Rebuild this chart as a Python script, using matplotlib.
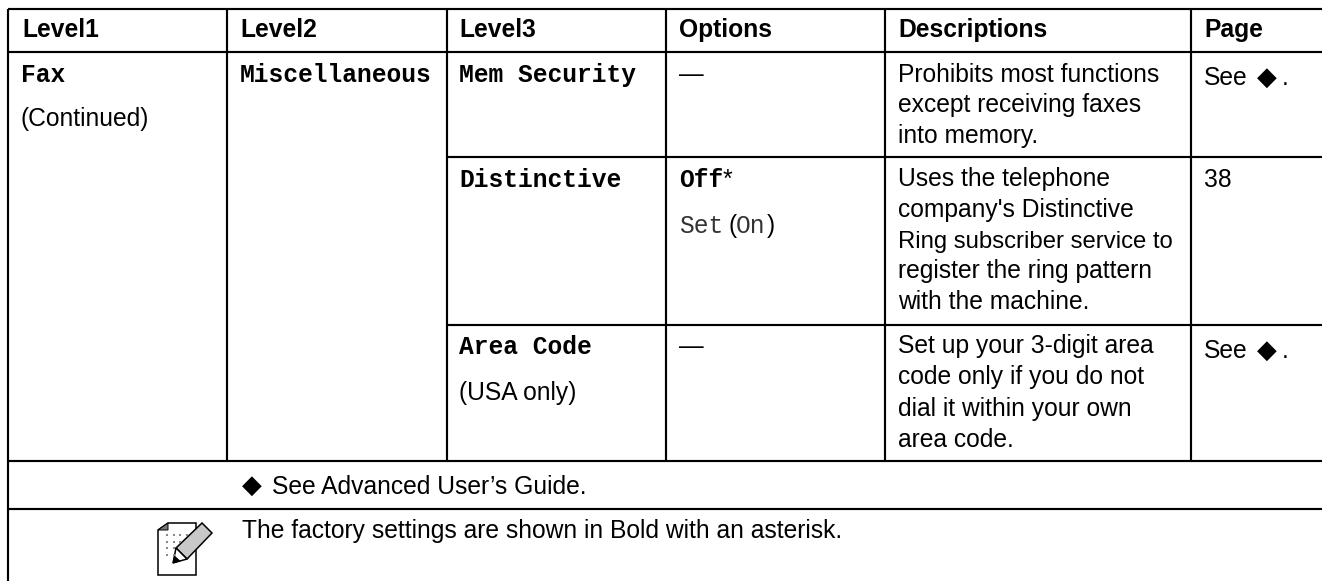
import matplotlib
matplotlib.use("Agg")
import matplotlib.pyplot as plt
from matplotlib.patches import Polygon

W = 1322
H = 581

col_edges = [8, 227, 447, 666, 885, 1191]
row_lines = [8.5, 52, 157, 325, 461, 509]
header_labels = ["Level1", "Level2", "Level3", "Options", "Descriptions", "Page"]

desc1 = ["Prohibits most functions", "except receiving faxes", "into memory."]
desc2 = ["Uses the telephone", "company's Distinctive", "Ring subscriber service to", "register the ring pattern", "with the machine."]
desc3 = ["Set up your 3-digit area", "code only if you do not", "dial it within your own", "area code."]

SANS = ["Liberation Sans", "DejaVu Sans"]
MONO = "Liberation Mono"
FS = 17.7
LW = 1.55

fig = plt.figure(figsize=(W / 100, H / 100), dpi=100)
ax = fig.add_axes([0, 0, 1, 1])
ax.set_xlim(0, W)
ax.set_ylim(H, 0)
ax.axis("off")


def line(x0, y0, x1, y1):
    ax.plot([x0, x1], [y0, y1], color="black", lw=LW, solid_capstyle="butt")


def sans(x, y, s, size=FS, **kw):
    ax.text(x, y, s, family=SANS, fontsize=size, va="baseline", **kw)


def mono(x, y, s, weight="bold", color="black"):
    ax.text(x, y, s, family=MONO, fontsize=FS, weight=weight, va="baseline", color=color)


def diamond(x, y):
    ax.text(x, y, "◆", family="DejaVu Sans", fontsize=18.5, va="baseline")


# grid
top, head, r1, r2, r3, r4 = row_lines
for y in [top, head, r3, r4]:
    line(col_edges[0], y, W, y)
line(col_edges[2], r1, W, r1)
line(col_edges[2], r2, W, r2)
line(col_edges[0], top, col_edges[0], H)
for x in col_edges[1:]:
    line(x, top, x, r3)

# header
head_x = [22, 240, 459, 679, 898, 1204]
for x, s in zip(head_x, header_labels):
    sans(x, 37, s, weight="bold")

# level columns
mono(21, 82, "Fax")
sans(21, 126, "(Continued)")
mono(240, 82, "Miscellaneous")
mono(459, 82, "Mem Security")
mono(459, 187, "Distinctive")
mono(459, 354, "Area Code")
sans(459, 400, "(USA only)")

# options
sans(679, 82, "—")
mono(679, 187, "Off")
sans(723, 187, "*")
mono(679, 233, "Set", weight="normal", color="#333333")
sans(729, 233, "(")
mono(736, 233, "On", weight="normal", color="#333333")
sans(767, 233, ")")
sans(679, 354, "—")

# descriptions
for y, s in zip([82, 112, 143], desc1):
    sans(898, y, s)
for y, s in zip([186, 217, 248, 278, 309], desc2):
    sans(898, y, s, size=FS if not s.startswith("Ring") else 17.2)
for y, s in zip([353, 384, 416, 447], desc3):
    sans(898, y, s)

# page
for y in [85, 357.5]:
    sans(1204, y, "See")
    diamond(1257, y)
    sans(1282, y, ".")
sans(1204, 187, "38")

# footer
diamond(242, 493)
sans(272, 494, "See Advanced User’s Guide.")
sans(241.5, 538, "The factory settings are shown in Bold with an asterisk.")

# note icon
ax.add_patch(Polygon([(158, 530), (168, 523), (196, 523), (196, 575), (158, 575)],
                     closed=True, facecolor="white", edgecolor="black", lw=1.1))
ax.add_patch(Polygon([(158, 530), (168, 523), (168, 530)], closed=True,
                     facecolor="#777777", edgecolor="black", lw=0.7))
dot_rows = [535, 542, 548, 555]
dot_counts = [4, 3, 2, 2]
for y, n in zip(dot_rows, dot_counts):
    for i in range(n):
        ax.plot(167 + i * 6.6, y, "s", ms=1.5, color="#888888", mew=0)
ax.add_patch(Polygon([(176, 548), (202, 523), (212, 533), (187, 559)], closed=True,
                     facecolor="#c8c8c8", edgecolor="black", lw=1.1))
ax.add_patch(Polygon([(176, 548), (187, 559), (173, 563)], closed=True,
                     facecolor="white", edgecolor="black", lw=1.1))
ax.add_patch(Polygon([(173, 563), (174.5, 556), (180, 561)], closed=True,
                     facecolor="black", edgecolor="black", lw=0.5))

fig.savefig("out.png", dpi=100)
